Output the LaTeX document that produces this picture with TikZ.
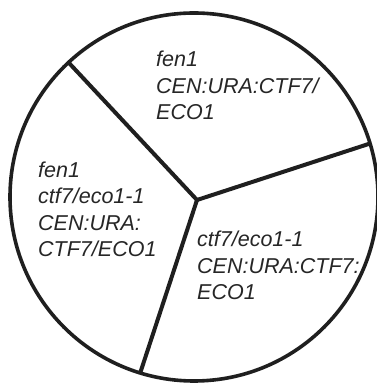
\documentclass[tikz,border=0pt]{standalone}
\usepackage{fontspec}
\setmainfont{Liberation Sans}
\usetikzlibrary{calc}
\begin{document}
\begin{tikzpicture}[x=1pt,y=1pt,
  rim/.style={line width=3.6pt,draw=black!88},
  spoke/.style={line width=4pt,draw=black!88},
  lbl/.style={anchor=base west,inner sep=0pt,align=left,text=black!85,
    font=\fontsize{21.5}{26.5}\selectfont\itshape}]
\useasboundingbox (0,0) rectangle (376,383);
\coordinate (C) at (194,186);
\coordinate (J) at (197,183);
\draw[rim] (C) circle (184);
\coordinate (E1) at ($(C)+(133:184)$);
\coordinate (E2) at ($(C)+(16.9:184)$);
\coordinate (E3) at ($(C)+(253:184)$);
\draw[spoke] (E1) -- (J);
\draw[spoke] (E2) -- (J);
\draw[spoke] (E3) -- (J);
\node[lbl] (top) at (156,263) {fen1\\CEN:URA:CTF7/\\ECO1};
\node[lbl] (left) at (38,126) {fen1\\ctf7/eco1-1\\CEN:URA:\\CTF7/ECO1};
\node[lbl] (right) at (197,83) {ctf7/eco1-1\\CEN:URA:CTF7:\\ECO1};
\end{tikzpicture}
\end{document}
